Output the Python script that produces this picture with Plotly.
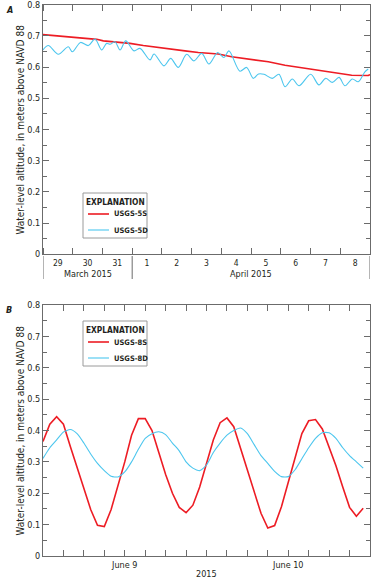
import pandas as pd
import plotly.graph_objects as go

# ---------------- Data ----------------
A_START = "2015-03-29 00:00"
A_END = "2015-04-09 00:00"
A_MONTH_BREAKS = ["2015-03-29 00:00", "2015-04-01 00:00", "2015-04-09 00:00"]
A_MONTH_LABELS = ["March 2015", "April 2015"]
A_MONTH_CENTERS = ["2015-03-30 12:00", "2015-04-05 00:00"]

# USGS-5S (hours after A_START, water level m)
A_5S_HOURS = [0, 13.7, 29.9, 43.4, 48.7, 59.5, 70.2, 81.0, 94.4, 105.2, 114.6,
              125.4, 141.5, 152.3, 168.5, 181.9, 195.4, 208.9, 222.3, 235.8,
              249.2, 262.6, 264]
A_5S_LEVEL = [0.704, 0.699, 0.694, 0.689, 0.684, 0.680, 0.676, 0.669, 0.662,
              0.655, 0.652, 0.647, 0.642, 0.633, 0.623, 0.617, 0.606, 0.598,
              0.590, 0.582, 0.574, 0.573, 0.576]

# USGS-5D
A_5D_HOURS = [0, 4.3, 12.4, 20.4, 23.7, 30.3, 36.6, 42.0, 47.4, 51.4, 54.1,
              58.1, 62.2, 66.8, 73.5, 78.3, 86.4, 89.6, 97.7, 103.1, 109.2,
              116.0, 121.9, 128.1, 134.0, 141.0, 146.1, 150.1, 159.0, 164.4,
              169.8, 174.0, 178.4, 185.1, 190.5, 195.4, 201.3, 206.7, 216.1,
              222.8, 228.2, 233.6, 239.0, 243.8, 249.7, 254.5, 259.9, 262.6]
A_5D_LEVEL = [0.655, 0.669, 0.641, 0.665, 0.649, 0.679, 0.669, 0.690, 0.655,
              0.676, 0.673, 0.681, 0.655, 0.684, 0.652, 0.660, 0.623, 0.642,
              0.604, 0.628, 0.599, 0.641, 0.620, 0.644, 0.610, 0.647, 0.631,
              0.652, 0.587, 0.599, 0.564, 0.578, 0.577, 0.564, 0.577, 0.537,
              0.562, 0.540, 0.577, 0.543, 0.564, 0.551, 0.567, 0.540, 0.562,
              0.553, 0.585, 0.594]

B_START = "2015-06-08 12:00"
B_END = "2015-06-10 12:00"
B_YEAR_LABEL = "2015"
B_YEAR_CENTER = "2015-06-09 12:00"

# hourly readings, hours after B_START
B_HOURS = list(range(48))
B_8S_LEVEL = [0.365, 0.420, 0.444, 0.420, 0.350, 0.285, 0.220, 0.148, 0.098,
              0.094, 0.148, 0.220, 0.300, 0.385, 0.438, 0.438, 0.400, 0.330,
              0.260, 0.200, 0.155, 0.138, 0.162, 0.220, 0.296, 0.370, 0.425,
              0.440, 0.412, 0.343, 0.274, 0.205, 0.136, 0.089, 0.097, 0.157,
              0.235, 0.315, 0.390, 0.431, 0.435, 0.405, 0.345, 0.288, 0.220,
              0.155, 0.127, 0.152]
B_8D_LEVEL = [0.311, 0.345, 0.370, 0.395, 0.403, 0.390, 0.360, 0.325, 0.295,
              0.272, 0.254, 0.252, 0.268, 0.300, 0.340, 0.375, 0.390, 0.396,
              0.387, 0.360, 0.335, 0.300, 0.280, 0.272, 0.290, 0.330, 0.360,
              0.385, 0.400, 0.408, 0.390, 0.355, 0.320, 0.295, 0.270, 0.253,
              0.253, 0.275, 0.310, 0.345, 0.375, 0.393, 0.393, 0.375, 0.345,
              0.320, 0.300, 0.280]

SERIES_NAMES_A = ["USGS-5S", "USGS-5D"]
SERIES_NAMES_B = ["USGS-8S", "USGS-8D"]
LEGEND_TITLE = "EXPLANATION"
Y_TITLE = "Water-level altitude, in meters above NAVD 88"

# ---------------- Styling ----------------
FONT = "Liberation Sans Narrow, DejaVu Sans Condensed, Arial Narrow, sans-serif"
RED = "#ed1c24"
CYAN = "#4cc6ee"
AXC = "#6b6b6b"
TXT = "#231f20"
W, H = 371, 580
L, R = 43, 1


def times(start, hours):
    return pd.Timestamp(start) + pd.to_timedelta(hours, unit="h")


def py(px):  # pixel row -> paper y
    return 1 - px / H


def px_x(px):  # pixel column -> paper x
    return (px - L) / (W - L - R)


fig = go.Figure()
fig.add_trace(go.Scatter(x=times(A_START, A_5S_HOURS), y=A_5S_LEVEL, mode="lines",
                         name=SERIES_NAMES_A[0], line=dict(color=RED, width=1.6),
                         xaxis="x", yaxis="y"))
fig.add_trace(go.Scatter(x=times(A_START, A_5D_HOURS), y=A_5D_LEVEL, mode="lines",
                         name=SERIES_NAMES_A[1], line=dict(color=CYAN, width=1.1, shape="spline", smoothing=0.9),
                         xaxis="x", yaxis="y"))
fig.add_trace(go.Scatter(x=times(B_START, B_HOURS), y=B_8S_LEVEL, mode="lines",
                         name=SERIES_NAMES_B[0], line=dict(color=RED, width=1.6),
                         xaxis="x2", yaxis="y2"))
fig.add_trace(go.Scatter(x=times(B_START, B_HOURS), y=B_8D_LEVEL, mode="lines",
                         name=SERIES_NAMES_B[1], line=dict(color=CYAN, width=1.1, shape="spline", smoothing=0.6),
                         xaxis="x2", yaxis="y2"))

yax = dict(range=[0, 0.8], dtick=0.1, tick0=0, ticks="inside", ticklen=6, tickwidth=1,
           tickcolor=AXC, showline=True, linecolor=AXC, linewidth=1, mirror="allticks",
           showgrid=False, zeroline=False, automargin=False, ticklabeloverflow="allow",
           tickfont=dict(family=FONT, size=9, color=TXT),
           minor=dict(dtick=0.05, ticks="inside", ticklen=4, tickcolor=AXC, showgrid=False),
           fixedrange=True)

A_TOP, A_BOT = 4.7, 254.3
B_TOP, B_BOT = 305, 556

fig.update_layout(
    width=W, height=H,
    margin=dict(l=L, r=R, t=0, b=0, autoexpand=False),
    paper_bgcolor="white", plot_bgcolor="white",
    font=dict(family=FONT, color=TXT),
    showlegend=False,
    xaxis=dict(domain=[0, 1], anchor="y", type="date", range=[A_START, A_END],
               dtick=86400000, tick0=A_START, tickformat="%-d", ticklabelmode="period",
               ticks="inside", ticklen=6, tickcolor=AXC, showline=True, linecolor=AXC,
               mirror="allticks", showgrid=False, automargin=False, ticklabeloverflow="allow",
               tickfont=dict(family=FONT, size=8.5, color=TXT)),
    yaxis=dict(domain=[py(A_BOT), py(A_TOP)], anchor="x", **yax),
    xaxis2=dict(domain=[0, 1], anchor="y2", type="date", range=[B_START, B_END],
                dtick=86400000, tick0="2015-06-09", tickformat="%B %-d",
                ticks="inside", ticklen=6, tickcolor=AXC, showline=True, linecolor=AXC,
                mirror="allticks", showgrid=False, automargin=False, ticklabeloverflow="allow",
                tickfont=dict(family=FONT, size=9, color=TXT),
                minor=dict(dtick=3 * 3600 * 1000, ticks="inside", ticklen=6, tickcolor=AXC,
                           showgrid=False)),
    yaxis2=dict(domain=[py(B_BOT), py(B_TOP)], anchor="x2", **yax),
)

ann = []
shapes = []
# y-axis titles
for top, bot in [(A_TOP, A_BOT), (B_TOP, B_BOT)]:
    ann.append(dict(text=Y_TITLE, textangle=-90, xref="paper", yref="paper",
                    x=px_x(20), y=py((top + bot) / 2), xanchor="center", yanchor="middle",
                    showarrow=False, font=dict(family=FONT, size=10, color=TXT)))
# panel letters
ann.append(dict(text="<b><i>A</i></b>", xref="paper", yref="paper", x=px_x(4), y=py(10),
                xanchor="left", yanchor="middle", showarrow=False,
                font=dict(family=FONT, size=9, color=TXT)))
ann.append(dict(text="<b><i>B</i></b>", xref="paper", yref="paper", x=px_x(4), y=py(310),
                xanchor="left", yanchor="middle", showarrow=False,
                font=dict(family=FONT, size=9, color=TXT)))
# month labels panel A
for lab, ctr in zip(A_MONTH_LABELS, A_MONTH_CENTERS):
    ann.append(dict(text=lab, xref="x", yref="paper", x=ctr, y=py(274),
                    xanchor="center", yanchor="middle", showarrow=False,
                    font=dict(family=FONT, size=9, color=TXT)))
for b in A_MONTH_BREAKS:
    shapes.append(dict(type="line", xref="x", yref="paper", x0=b, x1=b,
                       y0=py(256), y1=py(279), line=dict(color=AXC, width=1)))
# year label panel B
ann.append(dict(text=B_YEAR_LABEL, xref="x2", yref="paper", x=B_YEAR_CENTER, y=py(574),
                xanchor="center", yanchor="middle", showarrow=False,
                font=dict(family=FONT, size=9, color=TXT)))


# explanation boxes (manual legends)
def explanation(top, names, colors, widths):
    x0, x1 = 83, 147
    shapes.append(dict(type="rect", xref="paper", yref="paper", x0=px_x(x0), x1=px_x(x1),
                       y0=py(top + 45), y1=py(top), line=dict(color="#9a9a9a", width=1),
                       fillcolor="white", layer="above"))
    ann.append(dict(text="<b>" + LEGEND_TITLE + "</b>", xref="paper", yref="paper",
                    x=px_x((x0 + x1) / 2), y=py(top + 9), xanchor="center", yanchor="middle",
                    showarrow=False, font=dict(family=FONT, size=8.3, color=TXT)))
    for i, (nm, c, w) in enumerate(zip(names, colors, widths)):
        yy = top + 21 + 16 * i
        shapes.append(dict(type="line", xref="paper", yref="paper", x0=px_x(88), x1=px_x(109),
                           y0=py(yy), y1=py(yy), line=dict(color=c, width=w), layer="above"))
        ann.append(dict(text="<b>" + nm + "</b>", xref="paper", yref="paper", x=px_x(112),
                        y=py(yy), xanchor="left", yanchor="middle", showarrow=False,
                        font=dict(family=FONT, size=7.5, color=TXT)))


explanation(193, SERIES_NAMES_A, [RED, CYAN], [1.6, 1.1])
explanation(321, SERIES_NAMES_B, [RED, CYAN], [1.6, 1.1])

fig.update_layout(annotations=ann, shapes=shapes)

fig.write_html("out.html", config={"displayModeBar": False},
               post_script="document.body.style.margin='0px';document.body.style.overflow='hidden';")
